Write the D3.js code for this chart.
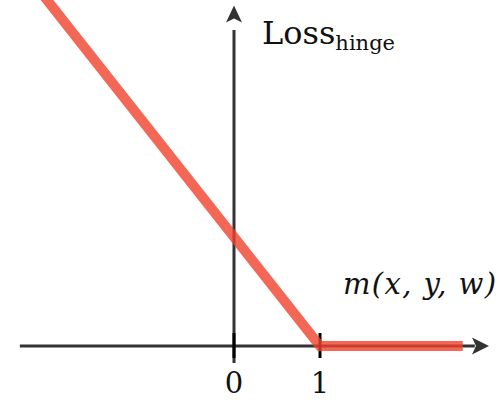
<!DOCTYPE html>
<html>
<head>
<meta charset="utf-8">
<script src="https://cdn.jsdelivr.net/npm/d3@7"></script>
<style>
  html, body { margin: 0; padding: 0; background: #fff; }
  svg { display: block; }
</style>
</head>
<body>
<div id="chart"></div>
<script>
// Data: hinge loss = max(0, 1 - m), sampled at its breakpoints
const marginValues = [-2.6, 1, 2.66];
const lossValues = [3.6, 0, 0];
const tickValues = [0, 1];
const tickLabels = ["0", "1"];
const xAxisLabel = "m(x, y, w)";
const yAxisLabelMain = "Loss";
const yAxisLabelSub = "hinge";

const W = 500, H = 400;
const FONT = "'DejaVu Serif', 'Liberation Serif', serif";
const svg = d3.select("#chart").append("svg").attr("width", W).attr("height", H);

const x = d3.scaleLinear().domain([0, 1]).range([234, 320]);
const y = d3.scaleLinear().domain([0, 1]).range([346, 237]);

const axisColor = "#333";

// x axis line + arrow
svg.append("line")
  .attr("x1", x(-2.49)).attr("x2", x(2.8))
  .attr("y1", y(0)).attr("y2", y(0))
  .attr("stroke", axisColor).attr("stroke-width", 3);
{
  const tx = x(2.965), ty = y(0);
  svg.append("path")
    .attr("d", `M${tx},${ty} L${tx - 17},${ty - 8.5} L${tx - 13},${ty} L${tx - 17},${ty + 8.5} Z`)
    .attr("fill", axisColor);
}

// y axis line + arrow
svg.append("line")
  .attr("x1", x(0)).attr("x2", x(0))
  .attr("y1", y(-0.156)).attr("y2", y(2.9))
  .attr("stroke", axisColor).attr("stroke-width", 3);
{
  const tx = x(0), ty = y(3.125);
  svg.append("path")
    .attr("d", `M${tx},${ty} L${tx - 8},${ty + 17} L${tx},${ty + 13} L${tx + 8},${ty + 17} Z`)
    .attr("fill", axisColor);
}

// ticks
svg.selectAll("line.tick").data(tickValues).enter().append("line")
  .attr("class", "tick")
  .attr("x1", d => x(d)).attr("x2", d => x(d))
  .attr("y1", y(0) - 13).attr("y2", y(0) + 12)
  .attr("stroke", "#000").attr("stroke-width", 3);

svg.selectAll("text.ticklabel").data(tickValues).enter().append("text")
  .attr("class", "ticklabel")
  .attr("x", d => x(d)).attr("y", 393)
  .attr("text-anchor", "middle")
  .attr("font-family", FONT)
  .attr("font-size", 29)
  .attr("fill", "#111")
  .text((d, i) => tickLabels[i]);

// hinge loss line
const pts = marginValues.map((m, i) => [m, lossValues[i]]);
svg.append("path")
  .datum(pts)
  .attr("d", d3.line().x(d => x(d[0])).y(d => y(d[1])))
  .attr("fill", "none")
  .attr("stroke", "#f0412c")
  .attr("stroke-opacity", 0.8)
  .attr("stroke-width", 10)
  .attr("stroke-linejoin", "miter");

// labels
const yl = svg.append("text").attr("x", 262).attr("y", 44)
  .attr("font-family", FONT).attr("font-size", 32).attr("fill", "#111");
yl.append("tspan").text(yAxisLabelMain);
yl.append("tspan").attr("font-size", 21).attr("dy", 6).text(yAxisLabelSub);

svg.append("text")
  .attr("x", 343).attr("y", 294)
  .attr("font-family", FONT)
  .attr("font-size", 29)
  .attr("font-style", "italic")
  .attr("fill", "#111")
  .attr("textLength", 153)
  .attr("lengthAdjust", "spacing")
  .text(xAxisLabel);
</script>
</body>
</html>
